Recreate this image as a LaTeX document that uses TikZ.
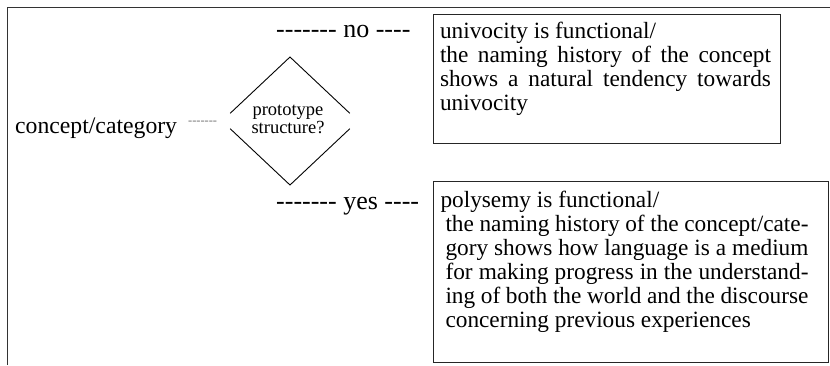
\documentclass[tikz,border=0pt]{standalone}
\usepackage{fontspec}
\setmainfont{Liberation Serif}
\usetikzlibrary{calc}

\newcommand{\bodysize}{\fontsize{23.3}{24}\selectfont}
\newcommand{\branchsize}{\fontsize{26}{28}\selectfont}
\newcommand{\asksize}{\fontsize{18.5}{18}\selectfont}
\newcommand{\hyphens}[1]{\foreach \k in {1,...,#1}{-\kern0pt}}

\tikzset{
  answer/.style={draw=black!85, line width=1pt, anchor=north west, inner xsep=6.5pt, inner ysep=7pt, font=\bodysize},
  branch/.style={anchor=base west, inner sep=0pt, font=\branchsize},
}

\begin{document}
\begin{tikzpicture}[x=1pt, y=-1pt]
  \useasboundingbox (0,0) rectangle (830,365);
  % outer frame
  \draw[line width=1pt, black!80] (7,365) -- (7,7) -- (830,7);

  \node[anchor=base west, inner sep=0pt, font=\fontsize{23.7}{24}\selectfont] (concept) at (15,133) {concept/category};
  \node[anchor=base west, inner sep=0pt, font=\fontsize{12.4}{12}\selectfont, text=black!55] (lead) at (188,124) {\hyphens{7}};

  % decision
  \coordinate (qt) at (290,57);
  \coordinate (qb) at (290,185);
  \coordinate (ql) at (222,121);
  \coordinate (qr) at (358,121);
  \draw[line width=0.9pt] ($(ql)!0.12!(qt)$) -- (qt) -- ($(qt)!0.88!(qr)$);
  \draw[line width=0.9pt] ($(ql)!0.12!(qb)$) -- (qb) -- ($(qb)!0.88!(qr)$);
  \node[font=\asksize, align=center, inner sep=0pt] (ask) at (288,119) {prototype\\structure?};

  \node[branch] (no) at (276,37) {\hyphens{7} no \hyphens{4}};
  \node[branch] (yes) at (276,209) {\hyphens{7} yes \hyphens{4}};

  \node[answer] (univ) at (433,14) {\parbox[t][115pt][t]{334pt}{\strut univocity is functional/\\
    \makebox[331pt][s]{the naming history of the concept}\\
    \makebox[331pt][s]{shows a natural tendency towards}\\
    univocity}};

  \node[answer, inner xsep=7pt, inner ysep=9pt] (poly) at (433,181) {\parbox[t][163pt][t]{381pt}{\strut polysemy is functional/\\
    \hspace*{5pt}\makebox[363pt][s]{the naming history of the concept/cate-}\\
    \hspace*{5pt}\makebox[363pt][s]{gory shows how language is a medium}\\
    \hspace*{5pt}\makebox[363pt][s]{for making progress in the understand-}\\
    \hspace*{5pt}\makebox[363pt][s]{ing of both the world and the discourse}\\
    \hspace*{5pt}concerning previous experiences}};
\end{tikzpicture}
\end{document}
